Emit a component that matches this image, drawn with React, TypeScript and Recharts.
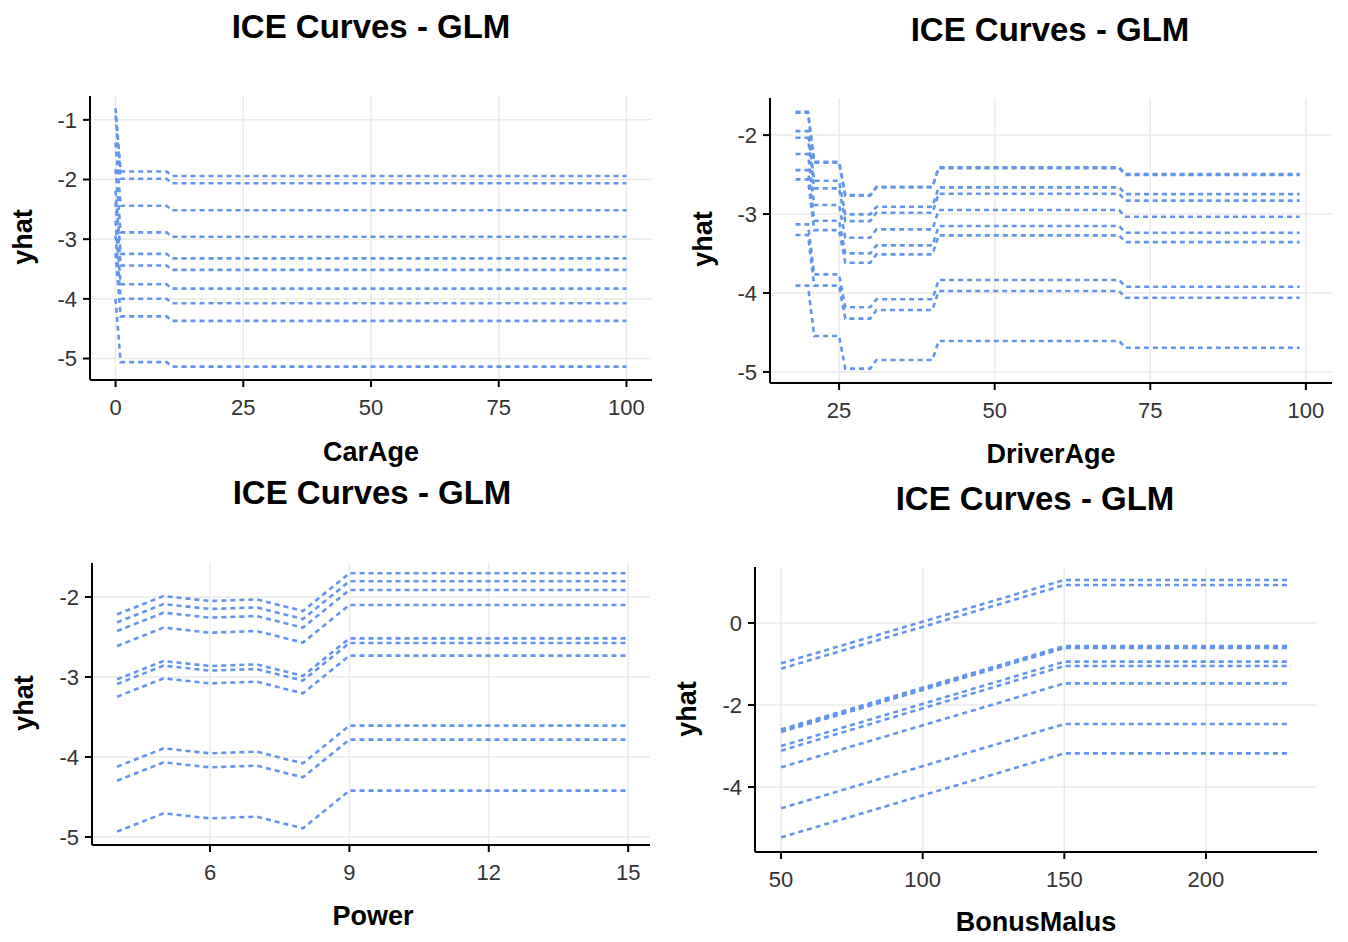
import React from 'react';
import { LineChart, Line, XAxis, YAxis, CartesianGrid } from 'recharts';

// CarAge panel
const carAgeX = [0, 1, 10, 11, 100];
const carAgeIce = [
  [-0.805, -1.865, -1.865, -1.94, -1.94],
  [-0.927, -1.987, -1.987, -2.062, -2.062],
  [-1.38, -2.44, -2.44, -2.515, -2.515],
  [-1.825, -2.885, -2.885, -2.96, -2.96],
  [-2.186, -3.246, -3.246, -3.321, -3.321],
  [-2.38, -3.44, -3.44, -3.515, -3.515],
  [-2.694, -3.754, -3.754, -3.829, -3.829],
  [-2.938, -3.998, -3.998, -4.073, -4.073],
  [-3.234, -4.294, -4.294, -4.369, -4.369],
  [-4.0, -5.06, -5.06, -5.135, -5.135],
];
const carAgeTicks = [0, 25, 50, 75, 100];
const carAgeYTicks = [-5, -4, -3, -2, -1];

// DriverAge panel
const driverAgeX = [18, 20, 21, 25, 26, 30, 31, 40, 41, 70, 71, 99];
const driverAgeIce = [
  [-1.705, -1.705, -2.338, -2.338, -2.759, -2.759, -2.654, -2.654, -2.409, -2.409, -2.494, -2.494],
  [-1.715, -1.715, -2.348, -2.348, -2.769, -2.769, -2.664, -2.664, -2.419, -2.419, -2.504, -2.504],
  [-1.949, -1.949, -2.578, -2.578, -3.004, -3.004, -2.907, -2.907, -2.662, -2.662, -2.747, -2.747],
  [-2.034, -2.034, -2.675, -2.675, -3.089, -3.089, -2.983, -2.983, -2.743, -2.743, -2.83, -2.83],
  [-2.24, -2.24, -2.886, -2.886, -3.3, -3.3, -3.194, -3.194, -2.949, -2.949, -3.035, -3.035],
  [-2.443, -2.443, -3.084, -3.084, -3.498, -3.498, -3.397, -3.397, -3.152, -3.152, -3.237, -3.237],
  [-2.561, -2.561, -3.203, -3.203, -3.616, -3.616, -3.511, -3.511, -3.27, -3.27, -3.355, -3.355],
  [-3.131, -3.131, -3.764, -3.764, -4.181, -4.181, -4.08, -4.08, -3.835, -3.835, -3.92, -3.92],
  [-3.266, -3.266, -3.907, -3.907, -4.325, -4.325, -4.215, -4.215, -3.975, -3.975, -4.06, -4.06],
  [-3.907, -3.907, -4.544, -4.544, -4.958, -4.958, -4.848, -4.848, -4.608, -4.608, -4.693, -4.693],
];
const driverAgeTicks = [25, 50, 75, 100];
const driverAgeYTicks = [-5, -4, -3, -2];

// Power panel
const powerX = [4, 5, 6, 7, 8, 9, 15];
const powerIce = [
  [-2.217, -1.988, -2.05, -2.03, -2.175, -1.704, -1.704],
  [-2.317, -2.088, -2.15, -2.13, -2.275, -1.804, -1.804],
  [-2.425, -2.196, -2.258, -2.238, -2.383, -1.912, -1.912],
  [-2.613, -2.383, -2.446, -2.425, -2.57, -2.1, -2.1],
  [-3.029, -2.8, -2.863, -2.842, -2.987, -2.517, -2.517],
  [-3.088, -2.858, -2.92, -2.9, -3.046, -2.575, -2.575],
  [-3.246, -3.017, -3.08, -3.058, -3.204, -2.733, -2.733],
  [-4.121, -3.892, -3.954, -3.933, -4.079, -3.608, -3.608],
  [-4.296, -4.067, -4.129, -4.108, -4.254, -3.783, -3.783],
  [-4.933, -4.704, -4.767, -4.746, -4.891, -4.42, -4.42],
];
const powerTicks = [6, 9, 12, 15];
const powerYTicks = [-5, -4, -3, -2];

// BonusMalus panel
const bonusX = [50, 150, 230];
const bonusIce = [
  [-0.984, 1.049, 1.049],
  [-1.114, 0.927, 0.927],
  [-2.593, -0.561, -0.561],
  [-2.63, -0.59, -0.59],
  [-2.659, -0.61, -0.61],
  [-3.0, -0.943, -0.943],
  [-3.114, -1.049, -1.049],
  [-3.52, -1.472, -1.472],
  [-4.52, -2.463, -2.463],
  [-5.228, -3.179, -3.179],
];
const bonusTicks = [50, 100, 150, 200];
const bonusYTicks = [-4, -2, 0];

const FONT = '"Liberation Sans", Arial, sans-serif';
const LINE_COLOR = '#6495ED';

function toRows(xs: number[], lines: number[][]) {
  return xs.map((x, i) => {
    const row: any = { x };
    lines.forEach((l, j) => {
      row['l' + j] = l[i];
    });
    return row;
  });
}

type PanelProps = {
  plot: { left: number; top: number; right: number; bottom: number };
  xDomain: [number, number];
  yDomain: [number, number];
  xTicks: number[];
  yTicks: number[];
  xs: number[];
  lines: number[][];
  title: string;
  titleAt: [number, number];
  xLabel: string;
  xLabelAt: [number, number];
  yLabelAt: [number, number];
};

function Text({ at, size, children, rotate }: any) {
  return (
    <div
      style={{
        position: 'absolute',
        left: at[0],
        top: at[1],
        transform: `translate(-50%, -50%)${rotate ? ' rotate(-90deg)' : ''}`,
        fontFamily: FONT,
        fontWeight: 'bold',
        fontSize: size,
        lineHeight: 1,
        whiteSpace: 'nowrap',
        color: '#000',
      }}
    >
      {children}
    </div>
  );
}

function Panel(p: PanelProps) {
  const w = p.plot.right - p.plot.left + 110;
  const h = p.plot.bottom - p.plot.top + 80;
  const rows = toRows(p.xs, p.lines);
  const tickStyle = { fontSize: 22, fill: '#333', fontFamily: FONT };
  return (
    <>
      <Text at={p.titleAt} size={33}>{p.title}</Text>
      <Text at={p.xLabelAt} size={27}>{p.xLabel}</Text>
      <Text at={p.yLabelAt} size={27} rotate>yhat</Text>
      <div style={{ position: 'absolute', left: p.plot.left - 90, top: p.plot.top - 20 }}>
        <LineChart width={w} height={h} data={rows} margin={{ top: 20, right: 20, bottom: 20, left: 0 }}>
          <CartesianGrid stroke="#EBEBEB" strokeWidth={1.5} syncWithTicks />
          <XAxis
            dataKey="x"
            type="number"
            domain={p.xDomain}
            ticks={p.xTicks}
            interval={0}
            height={40}
            tick={tickStyle}
            tickSize={7}
            tickMargin={12}
            axisLine={{ stroke: '#000', strokeWidth: 2 }}
            tickLine={{ stroke: '#000', strokeWidth: 2 }}
          />
          <YAxis
            type="number"
            domain={p.yDomain}
            ticks={p.yTicks}
            interval={0}
            width={90}
            tick={tickStyle}
            tickSize={7}
            tickMargin={6}
            axisLine={{ stroke: '#000', strokeWidth: 2 }}
            tickLine={{ stroke: '#000', strokeWidth: 2 }}
          />
          {p.lines.map((_, j) => (
            <Line
              key={j}
              type="linear"
              dataKey={'l' + j}
              stroke={LINE_COLOR}
              strokeWidth={2.6}
              strokeDasharray="5 4"
              dot={false}
              activeDot={false}
              isAnimationActive={false}
            />
          ))}
        </LineChart>
      </div>
    </>
  );
}

export default function App() {
  return (
    <div style={{ position: 'absolute', left: 0, top: 0, width: 1348, height: 942, background: '#fff' }}>
      <Panel
        plot={{ left: 90, top: 96, right: 652, bottom: 380 }}
        xDomain={[-5, 105]}
        yDomain={[-5.36, -0.6]}
        xTicks={carAgeTicks}
        yTicks={carAgeYTicks}
        xs={carAgeX}
        lines={carAgeIce}
        title="ICE Curves - GLM"
        titleAt={[371, 26]}
        xLabel="CarAge"
        xLabelAt={[371, 452]}
        yLabelAt={[23, 237]}
      />
      <Panel
        plot={{ left: 770, top: 98, right: 1332, bottom: 383 }}
        xDomain={[13.9, 104.2]}
        yDomain={[-5.14, -1.53]}
        xTicks={driverAgeTicks}
        yTicks={driverAgeYTicks}
        xs={driverAgeX}
        lines={driverAgeIce}
        title="ICE Curves - GLM"
        titleAt={[1050, 29]}
        xLabel="DriverAge"
        xLabelAt={[1051, 454]}
        yLabelAt={[703, 239]}
      />
      <Panel
        plot={{ left: 92, top: 563, right: 650, bottom: 845 }}
        xDomain={[3.46, 15.47]}
        yDomain={[-5.1, -1.575]}
        xTicks={powerTicks}
        yTicks={powerYTicks}
        xs={powerX}
        lines={powerIce}
        title="ICE Curves - GLM"
        titleAt={[372, 492]}
        xLabel="Power"
        xLabelAt={[373, 916]}
        yLabelAt={[24, 703]}
      />
      <Panel
        plot={{ left: 755, top: 567, right: 1317, bottom: 852 }}
        xDomain={[40.8, 239.2]}
        yDomain={[-5.585, 1.366]}
        xTicks={bonusTicks}
        yTicks={bonusYTicks}
        xs={bonusX}
        lines={bonusIce}
        title="ICE Curves - GLM"
        titleAt={[1035, 498]}
        xLabel="BonusMalus"
        xLabelAt={[1036, 922]}
        yLabelAt={[687, 709]}
      />
    </div>
  );
}
